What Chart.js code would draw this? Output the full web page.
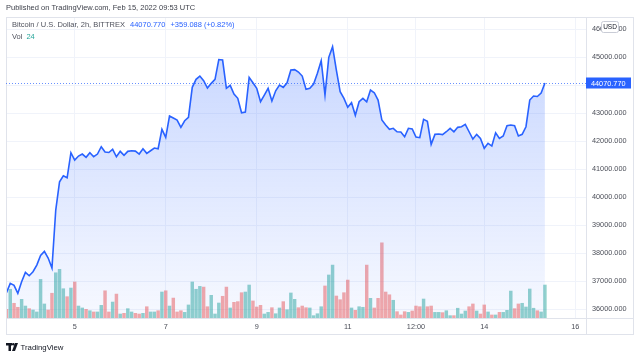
<!DOCTYPE html>
<html>
<head>
<meta charset="utf-8">
<script src="https://cdn.jsdelivr.net/npm/chart.js@4.4.0/dist/chart.umd.min.js"></script>
<style>
  html, body { margin: 0; padding: 0; background: #fff; }
  #wrap { width: 640px; height: 358px; }
</style>
</head>
<body>
<div id="wrap"><canvas id="myChart"></canvas></div>
<script>
// BTC/USD 2h closes, Feb 3 12:00 -> Feb 15 08:00
const closes = [
  36582, 36918, 36846, 36561, 36975, 37311, 37189, 37332, 37571, 37918,
  38061, 37821, 37464, 39536, 40546, 40761, 40689, 41582, 41321, 41464,
  41536, 41418, 41582, 41439, 41536, 41796, 41607, 41590, 41704, 41439,
  41632, 41489, 41632, 41654, 41640, 41536, 41725, 41561, 41654, 41750,
  41725, 42418, 42132, 42893, 42821, 42750, 42489, 42725, 42846, 43918,
  44204, 44321, 44154, 43893, 44061, 44204, 44911, 44893, 43882, 43989,
  43679, 43525, 43011, 43036, 44275, 44082, 43882, 43404, 43643, 43882,
  43429, 43796, 44000, 43918, 44082, 44536, 44550, 44464, 44321, 43846,
  43882, 44036, 44418, 44868, 43643, 44989, 45368, 44536, 43761, 43525,
  43204, 43368, 42918, 43404, 43525, 43404, 43821, 43725, 43464, 42750,
  42571, 42418, 42454, 42332, 42321, 42154, 42454, 42429, 42140, 42120,
  42775, 42704, 41882, 42239, 42250, 42230, 42332, 42454, 42332, 42489,
  42511, 42596, 42332, 42071, 42239, 42096, 41739, 41918, 41821, 42296,
  42096, 42179, 42546, 42571, 42550, 42179, 42239, 42511, 43464, 43607,
  43590, 43712, 44070.77
];

const volumes = [
  6.3, 20.9, 10.7, 7.8, 13.6, 8.7, 6.8, 5.8, 4.4, 28.1,
  10.2, 5.8, 18.0, 32.9, 35.4, 21.3, 15.5, 21.8, 26.2, 8.7,
  7.3, 6.3, 5.3, 4.4, 4.4, 9.2, 19.8, 4.4, 11.6, 17.4,
  2.9, 3.4, 6.8, 4.4, 3.4, 2.9, 3.4, 8.2, 4.4, 4.4,
  5.3, 18.9, 19.8, 8.7, 14.5, 4.4, 5.3, 4.1, 9.5, 26.2,
  20.9, 23.0, 22.5, 8.2, 16.5, 2.9, 10.9, 15.8, 22.5, 7.3,
  11.4, 11.9, 18.4, 18.9, 24.0, 12.4, 8.0, 9.2, 2.9, 4.1,
  7.5, 3.1, 7.3, 11.9, 6.0, 18.2, 13.6, 7.5, 8.7, 7.5,
  7.3, 1.7, 3.1, 8.2, 23.3, 31.3, 38.5, 16.0, 13.3, 18.4,
  27.6, 7.3, 5.6, 8.2, 7.8, 38.5, 14.3, 7.3, 14.3, 54.7,
  18.9, 16.9, 12.9, 4.6, 2.2, 4.6, 4.1, 5.1, 8.7, 8.2,
  13.8, 8.2, 8.7, 4.1, 4.1, 3.9, 5.3, 1.7, 1.7, 7.1,
  2.9, 5.1, 8.2, 10.2, 5.1, 2.9, 9.5, 4.4, 2.2, 2.2,
  4.1, 4.1, 5.6, 19.6, 6.8, 10.2, 10.7, 8.0, 21.1, 7.1,
  5.3, 4.4, 24
];

const startDay = 3.5;      // Feb 3, 12:00
const stepDays = 2 / 24;   // 2h candles
const priceTicks = [36000, 37000, 38000, 39000, 40000, 41000, 42000, 43000, 44000, 45000, 46000];
const timeTicks = [5, 7, 9, 11, 12.5, 14, 16];
const timeLabels = ['5', '7', '9', '11', '12:00', '14', '16'];

const lastPrice = 44070.770;
const changeText = '+359.088 (+0.82%)';
const titleText = 'Bitcoin / U.S. Dollar, 2h, BITTREX';
const publishedText = 'Published on TradingView.com, Feb 15, 2022 09:53 UTC';
const lastVolume = '24';

const FONT = '"Liberation Sans", Arial, sans-serif';
const BLUE = '#2962ff';

const pricePoints = closes.map((c, i) => ({ x: startDay + i * stepDays, y: c }));
const volumePoints = volumes.map((v, i) => ({ x: startDay + i * stepDays, y: v }));
const volumeColors = closes.map((c, i) =>
  i > 0 && c >= closes[i - 1] ? 'rgba(38,166,154,0.5)' : 'rgba(239,83,80,0.5)');

// frame, last price marker, header texts, logo
const chrome = {
  id: 'chrome',
  afterDraw(chart) {
    const ctx = chart.ctx;
    const area = chart.chartArea;
    const y = chart.scales.y;
    ctx.save();

    ctx.strokeStyle = '#e0e3eb';
    ctx.lineWidth = 1;
    ctx.strokeRect(6.5, 17.5, 627, 317);
    ctx.beginPath();
    ctx.moveTo(area.right + 0.5, 17);
    ctx.lineTo(area.right + 0.5, 335);
    ctx.moveTo(6, area.bottom + 0.5);
    ctx.lineTo(634, area.bottom + 0.5);
    ctx.stroke();

    // last price line + label
    const py = Math.round(y.getPixelForValue(lastPrice)) + 0.5;
    ctx.strokeStyle = 'rgba(41,98,255,0.7)';
    ctx.setLineDash([1, 2]);
    ctx.beginPath();
    ctx.moveTo(area.left, py);
    ctx.lineTo(area.right, py);
    ctx.stroke();
    ctx.setLineDash([]);
    ctx.fillStyle = BLUE;
    ctx.fillRect(area.right, py - 6, 45, 11);
    ctx.fillStyle = '#fff';
    ctx.font = '7.3px ' + FONT;
    ctx.textBaseline = 'middle';
    ctx.textAlign = 'left';
    ctx.fillText(lastPrice.toFixed(3), area.right + 5, py);

    // USD badge
    ctx.beginPath();
    ctx.roundRect(601.5, 21.5, 17, 11, 2);
    ctx.fillStyle = '#fff';
    ctx.fill();
    ctx.strokeStyle = '#c9ccd6';
    ctx.stroke();
    ctx.fillStyle = '#131722';
    ctx.font = '6.5px ' + FONT;
    ctx.textAlign = 'center';
    ctx.fillText('USD', 610, 27.5);

    // header
    ctx.textAlign = 'left';
    ctx.font = '7.5px ' + FONT;
    ctx.fillStyle = '#3c3f49';
    ctx.fillText(publishedText, 6, 8);

    let x = 12;
    ctx.fillStyle = '#50535e';
    ctx.fillText(titleText, x, 25);
    x += ctx.measureText(titleText).width + 5;
    ctx.fillStyle = BLUE;
    ctx.fillText(lastPrice.toFixed(3), x, 25);
    x += ctx.measureText(lastPrice.toFixed(3)).width + 5;
    ctx.fillText(changeText, x, 25);

    ctx.fillStyle = '#50535e';
    ctx.fillText('Vol', 12, 37);
    ctx.fillStyle = '#26a69a';
    ctx.fillText(lastVolume, 12 + ctx.measureText('Vol').width + 4, 37);

    // logo
    ctx.fillStyle = '#131722';
    ctx.fillRect(6, 343, 6, 2.5);
    ctx.fillRect(8.5, 343, 2.5, 8);
    ctx.beginPath();
    ctx.arc(13.3, 344.3, 1.3, 0, Math.PI * 2);
    ctx.fill();
    ctx.beginPath();
    ctx.moveTo(15, 343);
    ctx.lineTo(18, 343);
    ctx.lineTo(15, 351);
    ctx.lineTo(12, 351);
    ctx.closePath();
    ctx.fill();
    ctx.font = '7.8px ' + FONT;
    ctx.fillText('TradingView', 20.5, 347.5);

    ctx.restore();
  }
};

const ctx = document.getElementById('myChart').getContext('2d');
new Chart(ctx, {
  data: {
    datasets: [{
      type: 'line',
      data: pricePoints,
      yAxisID: 'y',
      borderColor: BLUE,
      borderWidth: 1.6,
      pointRadius: 0,
      tension: 0,
      fill: 'start',
      backgroundColor: (c) => {
        const a = c.chart.chartArea;
        if (!a) return 'rgba(41,98,255,0.15)';
        const g = c.chart.ctx.createLinearGradient(0, a.top, 0, a.bottom);
        g.addColorStop(0, 'rgba(41,98,255,0.28)');
        g.addColorStop(1, 'rgba(41,98,255,0.04)');
        return g;
      },
      order: 1
    }, {
      type: 'bar',
      data: volumePoints,
      yAxisID: 'yv',
      backgroundColor: volumeColors,
      barThickness: 2.8,
      grouped: false,
      order: 2
    }]
  },
  options: {
    responsive: true,
    maintainAspectRatio: false,
    animation: false,
    layout: { padding: { left: 6, top: 17, right: 6, bottom: 23 } },
    plugins: { legend: { display: false }, tooltip: { enabled: false } },
    scales: {
      x: {
        type: 'linear',
        offset: false,
        min: 3.49,
        max: 16.236,
        afterBuildTicks: (axis) => { axis.ticks = timeTicks.map(v => ({ value: v })); },
        afterFit: (axis) => { axis.height = 17; },
        grid: { color: '#f0f3fa', drawTicks: false, offset: false },
        border: { display: false },
        ticks: {
          autoSkip: false,
          maxRotation: 0,
          padding: 5,
          color: '#4c4f59',
          font: { family: FONT, size: 7.3 },
          callback: (v) => timeLabels[timeTicks.indexOf(v)]
        }
      },
      y: {
        position: 'right',
        min: 35680,
        max: 46430,
        afterBuildTicks: (axis) => { axis.ticks = priceTicks.map(v => ({ value: v })); },
        afterFit: (axis) => { axis.width = 48; },
        grid: { color: '#f0f3fa', drawTicks: false },
        border: { display: false },
        ticks: {
          padding: 6,
          color: '#4c4f59',
          font: { family: FONT, size: 7.3 },
          callback: (v) => v.toFixed(3)
        }
      },
      yv: {
        display: false,
        min: 0,
        max: 219
      }
    }
  },
  plugins: [chrome]
});
</script>
</body>
</html>
